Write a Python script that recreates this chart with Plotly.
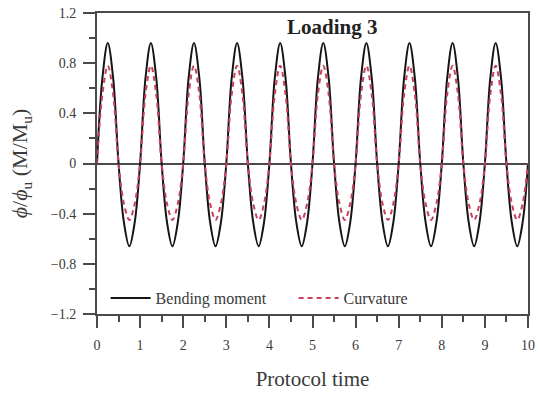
import plotly.graph_objects as go

# Protocol time sampled every 1/8 of a cycle over ten cycles
protocol_time = [i / 8 for i in range(81)]

# Normalised bending moment M/Mu
bending_moment = [
    0.00, 0.68, 0.96, 0.68, 0.00, -0.47, -0.66, -0.47,
    0.00, 0.68, 0.96, 0.68, 0.00, -0.47, -0.66, -0.47,
    0.00, 0.68, 0.96, 0.68, 0.00, -0.47, -0.66, -0.47,
    0.00, 0.68, 0.96, 0.68, 0.00, -0.47, -0.66, -0.47,
    0.00, 0.68, 0.96, 0.68, 0.00, -0.47, -0.66, -0.47,
    0.00, 0.68, 0.96, 0.68, 0.00, -0.47, -0.66, -0.47,
    0.00, 0.68, 0.96, 0.68, 0.00, -0.47, -0.66, -0.47,
    0.00, 0.68, 0.96, 0.68, 0.00, -0.47, -0.66, -0.47,
    0.00, 0.68, 0.96, 0.68, 0.00, -0.47, -0.66, -0.47,
    0.00, 0.68, 0.96, 0.68, 0.00, -0.47, -0.66, -0.47,
    0.00,
]

# Normalised curvature phi/phi_u
curvature = [
    0.00, 0.55, 0.78, 0.55, 0.00, -0.32, -0.45, -0.32,
    0.00, 0.55, 0.78, 0.55, 0.00, -0.32, -0.45, -0.32,
    0.00, 0.55, 0.78, 0.55, 0.00, -0.32, -0.45, -0.32,
    0.00, 0.55, 0.78, 0.55, 0.00, -0.32, -0.45, -0.32,
    0.00, 0.55, 0.78, 0.55, 0.00, -0.32, -0.45, -0.32,
    0.00, 0.55, 0.78, 0.55, 0.00, -0.32, -0.45, -0.32,
    0.00, 0.55, 0.78, 0.55, 0.00, -0.32, -0.45, -0.32,
    0.00, 0.55, 0.78, 0.55, 0.00, -0.32, -0.45, -0.32,
    0.00, 0.55, 0.78, 0.55, 0.00, -0.32, -0.45, -0.32,
    0.00, 0.55, 0.78, 0.55, 0.00, -0.32, -0.45, -0.32,
    0.00,
]

x_tick_values = [0, 1, 2, 3, 4, 5, 6, 7, 8, 9, 10]
x_tick_labels = ["0", "1", "2", "3", "4", "5", "6", "7", "8", "9", "10"]
y_tick_values = [1.2, 0.8, 0.4, 0, -0.4, -0.8, -1.2]
y_tick_labels = ["1.2", "0.8", "0.4", "0", "\u22120.4", "\u22120.8", "\u22121.2"]

FONT = "Liberation Serif"
AXIS_COLOR = "#4a4a4a"
TEXT_COLOR = "#3a3a3a"

fig = go.Figure()
fig.add_trace(go.Scatter(
    x=protocol_time, y=bending_moment, name="Bending moment",
    mode="lines", line=dict(color="#151515", width=2, shape="spline", smoothing=1.0),
))
fig.add_trace(go.Scatter(
    x=protocol_time, y=curvature, name="Curvature",
    mode="lines", line=dict(color="#c8405a", width=2, dash="5px,4px", shape="spline", smoothing=1.0),
))

axis_common = dict(
    showgrid=False, showline=True, linecolor=AXIS_COLOR, linewidth=2,
    mirror=True, ticks="outside", ticklen=12, tickwidth=2, tickcolor=AXIS_COLOR,
    tickfont=dict(family=FONT, size=14, color=TEXT_COLOR),
)

fig.update_xaxes(
    **axis_common, range=[0, 10], tickmode="array",
    tickvals=x_tick_values, ticktext=x_tick_labels, ticklabelstandoff=5,
    minor=dict(dtick=0.5, ticklen=6, tickwidth=2, tickcolor=AXIS_COLOR, ticks="outside", showgrid=False),
    zeroline=False,
    title=dict(text="Protocol time", font=dict(family=FONT, size=21, color=TEXT_COLOR), standoff=20),
)
fig.update_yaxes(
    **axis_common, range=[-1.2, 1.2], tickmode="array",
    tickvals=y_tick_values, ticktext=y_tick_labels, ticklabelstandoff=4,
    minor=dict(dtick=0.2, ticklen=6, tickwidth=2, tickcolor=AXIS_COLOR, ticks="outside", showgrid=False),
    zeroline=True, zerolinecolor=AXIS_COLOR, zerolinewidth=2,
    title=dict(text="<i>\u03d5</i>/<i>\u03d5</i><sub>u</sub> (M/M<sub>u</sub>)",
               font=dict(family=FONT, size=22, color=TEXT_COLOR), standoff=17),
)

fig.add_annotation(
    text="<b>Loading 3</b>", xref="paper", yref="paper", x=0.545, y=0.955,
    xanchor="center", yanchor="middle", showarrow=False,
    font=dict(family=FONT, size=21, color="#222222"),
)

fig.update_layout(
    width=539, height=394,
    margin=dict(l=97, r=11, t=13, b=80, autoexpand=False),
    paper_bgcolor="white", plot_bgcolor="white",
    font=dict(family=FONT, color=TEXT_COLOR),
    showlegend=True,
    legend=dict(
        orientation="h", x=0.02, y=0.053, xanchor="left", yanchor="middle",
        bgcolor="rgba(0,0,0,0)", font=dict(family=FONT, size=16, color=TEXT_COLOR),
        itemwidth=40, entrywidth=133, entrywidthmode="pixels",
    ),
)

fig.write_html("out.html")
